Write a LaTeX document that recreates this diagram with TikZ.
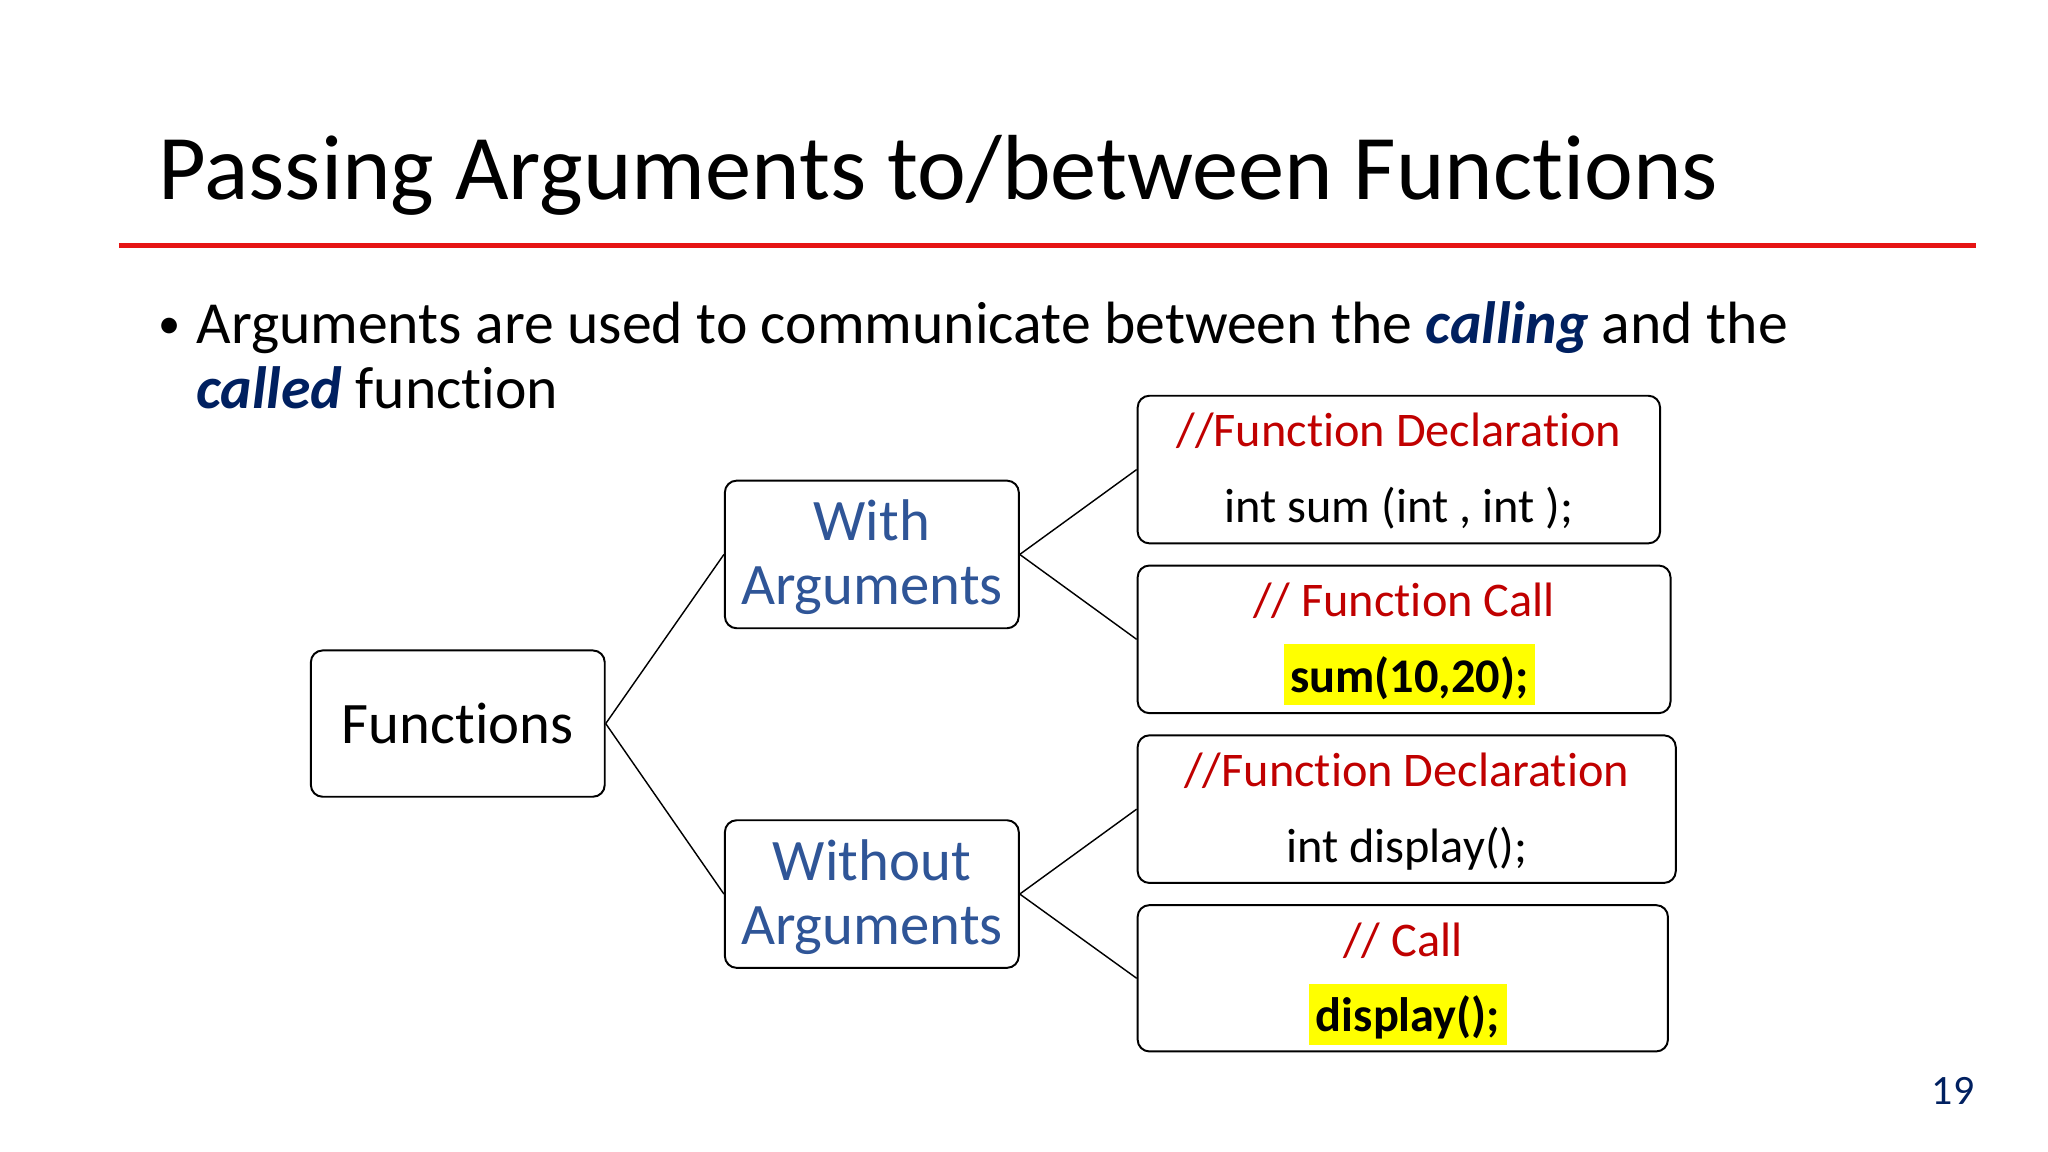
\documentclass[tikz,border=0pt]{standalone}
\usepackage{fontspec}
\setmainfont[RawFeature={-liga;-dlig}]{Carlito}
\definecolor{navy}{RGB}{0,32,96}
\definecolor{boxblue}{RGB}{47,85,151}
\definecolor{cred}{RGB}{192,0,0}
\definecolor{hlyellow}{RGB}{255,255,0}
\definecolor{rulered}{RGB}{230,20,20}
\begin{document}
\begin{tikzpicture}[x=0.5pt,y=-0.5pt,
  box/.style={draw=black, line width=0.75pt, rounded corners=4.5pt, inner sep=0pt},
  conn/.style={draw=black, line width=0.55pt},
  lbl/.style={inner sep=0pt, anchor=base},
  midfont/.style={font=\fontsize{22.5}{27}\selectfont},
  codefont/.style={font=\fontsize{18.5}{22}\selectfont},
  hlbox/.style={fill=hlyellow, inner xsep=2.5pt, inner ysep=0pt, text height=18.5pt, text depth=5pt, anchor=base, font=\fontsize{18.5}{22}\selectfont\bfseries}
]
\useasboundingbox[fill=white] (0,0) rectangle (1568,882);

% title
\node[inner sep=0pt, anchor=base west, font=\fontsize{35.4}{42}\selectfont] (title) at (121,153) {Passing Arguments to/between Functions};
\draw[rulered, line width=1.6pt] (91,188) -- (1513,188);

% bullet
\node[inner sep=0pt, anchor=base west, font=\fontsize{17}{20}\selectfont] (bul) at (121,259) {•};
\node[inner sep=0pt, anchor=base west, font=\fontsize{22.85}{28}\selectfont] (l1) at (150,263) {Arguments are used to communicate between the \textcolor{navy}{\textbf{\textit{calling}}} and the};
\node[inner sep=0pt, anchor=base west, font=\fontsize{22.85}{28}\selectfont] (l2) at (150,313) {\textcolor{navy}{\textbf{\textit{called}}} function};

% boxes
\node[box, minimum width=112.5pt, minimum height=56pt, midfont] (fn) at (350.5,554) {Functions};
\node[box, minimum width=112.5pt, minimum height=56.5pt] (wa) at (667.5,424.5) {};
\node[box, minimum width=112.5pt, minimum height=56.5pt] (woa) at (667.5,684.5) {};
\node[box, minimum width=200pt, minimum height=56.5pt] (b1) at (1071,359.5) {};
\node[box, minimum width=204pt, minimum height=56.5pt] (b2) at (1075,489.5) {};
\node[box, minimum width=206pt, minimum height=56.5pt] (b3) at (1077,619.5) {};
\node[box, minimum width=203pt, minimum height=56pt] (b4) at (1074,749) {};

% texts in middle boxes
\node[lbl, midfont, text=boxblue] (wa1) at (667.5,414) {With};
\node[lbl, midfont, text=boxblue] (wa2) at (667.5,463) {Arguments};
\node[lbl, midfont, text=boxblue] (woa1) at (667.5,674) {Without};
\node[lbl, midfont, text=boxblue] (woa2) at (667.5,723) {Arguments};

% texts in right boxes
\node[lbl, codefont, text=cred] (b1a) at (1071,342) {//Function Declaration};
\node[lbl, codefont] (b1b) at (1071,400) {int sum (int , int );};
\node[lbl, codefont, text=cred] (b2a) at (1075,472) {// Function Call};
\node[hlbox] (b2b) at (1079,530) {sum(10,20);};
\node[lbl, codefont, text=cred] (b3a) at (1077,602) {//Function Declaration};
\node[lbl, codefont] (b3b) at (1077,660) {int display();};
\node[lbl, codefont, text=cred] (b4a) at (1074,732) {// Call};
\node[hlbox] (b4b) at (1078,790) {display();};

% connectors
\draw[conn] (fn.east) -- (wa.west);
\draw[conn] (fn.east) -- (woa.west);
\draw[conn] (wa.east) -- (b1.west);
\draw[conn] (wa.east) -- (b2.west);
\draw[conn] (woa.east) -- (b3.west);
\draw[conn] (woa.east) -- (b4.west);

% page number
\node[inner sep=0pt, anchor=base east, text=navy, font=\fontsize{16}{19}\selectfont] (pg) at (1512,846) {19};
\end{tikzpicture}
\end{document}
